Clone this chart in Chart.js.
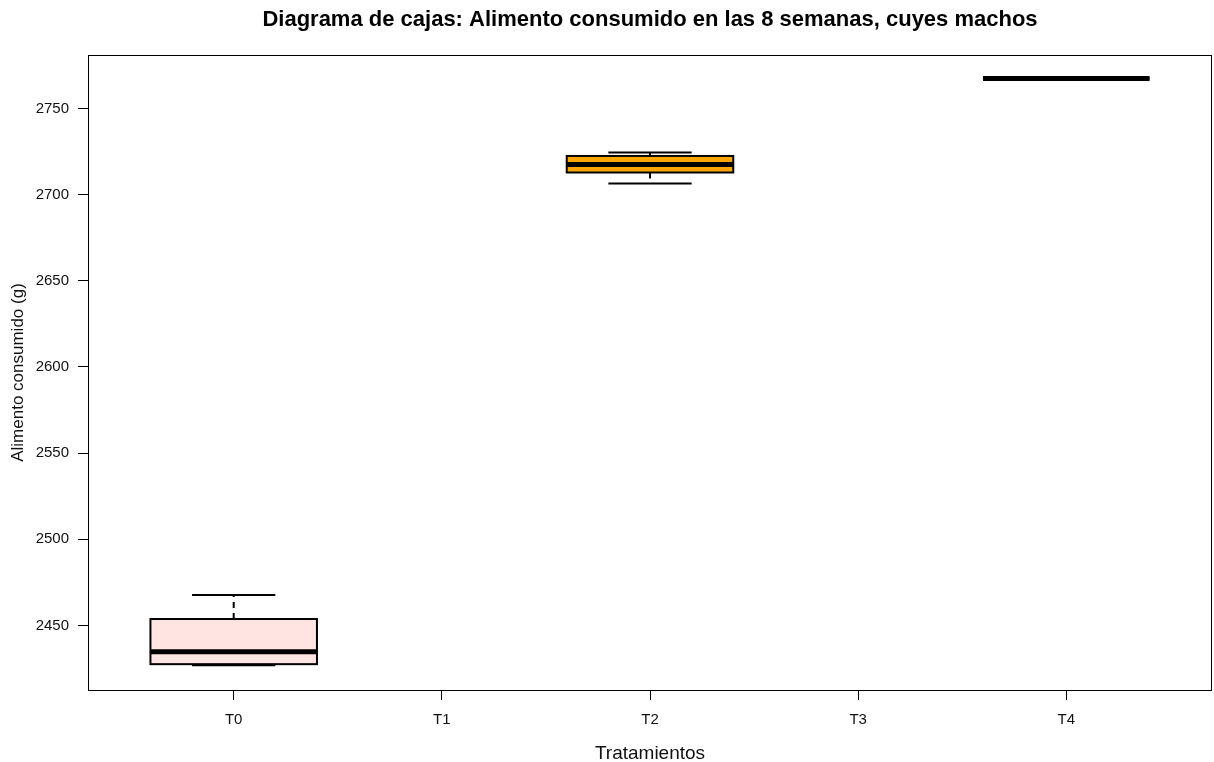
<!DOCTYPE html>
<html>
<head>
<meta charset="utf-8">
<script src="https://cdn.jsdelivr.net/npm/chart.js@4/dist/chart.umd.min.js"></script>
<style>
  body { margin: 0; background: #fff; }
  #wrap { width: 1214px; height: 762px; }
</style>
</head>
<body>
<div id="wrap"><canvas id="boxChart" width="1214" height="762"></canvas></div>
<script>
// Data
const categories = ["T0", "T1", "T2", "T3", "T4"];
const whiskerLow = [2426.8, null, 2706.5, null, 2767.4];
const q1 = [2427.5, null, 2712.9, null, 2767.4];
const medians = [2434.7, null, 2717.5, null, 2767.4];
const q3 = [2453.7, null, 2722.5, null, 2767.4];
const whiskerHigh = [2467.6, null, 2724.5, null, 2767.4];
const yTicks = [2450, 2500, 2550, 2600, 2650, 2700, 2750];

const boxColors = ["#FFE4E1", null, "#FFA500", null, "#000000"];
const FONT = "'Liberation Sans', Arial, sans-serif";
const TITLE = "Diagrama de cajas: Alimento consumido en las 8 semanas, cuyes machos";

Chart.defaults.font.family = FONT;
Chart.defaults.color = "#111";

const boxPlugin = {
  id: "boxes",
  beforeDraw(chart) {
    const ctx = chart.ctx;
    ctx.save();
    ctx.fillStyle = "#fff";
    ctx.fillRect(0, 0, chart.width, chart.height);
    ctx.restore();
  },
  afterDatasetsDraw(chart) {
    const { ctx, chartArea, scales: { x, y } } = chart;
    ctx.save();
    categories.forEach((c, i) => {
      if (medians[i] == null) return;
      const cx = x.getPixelForValue(i + 1);
      const half = x.getPixelForValue(i + 1.4) - cx;
      const yLo = y.getPixelForValue(whiskerLow[i]);
      const yQ1 = y.getPixelForValue(q1[i]);
      const yMed = y.getPixelForValue(medians[i]);
      const yQ3 = y.getPixelForValue(q3[i]);
      const yHi = y.getPixelForValue(whiskerHigh[i]);

      ctx.strokeStyle = "#000";
      ctx.lineWidth = 2;
      // whiskers
      ctx.setLineDash([6, 5]);
      ctx.beginPath();
      ctx.moveTo(cx, yQ3); ctx.lineTo(cx, yHi);
      ctx.moveTo(cx, yQ1); ctx.lineTo(cx, yLo);
      ctx.stroke();
      ctx.setLineDash([]);
      ctx.beginPath();
      ctx.moveTo(cx - half / 2, yHi); ctx.lineTo(cx + half / 2, yHi);
      ctx.moveTo(cx - half / 2, yLo); ctx.lineTo(cx + half / 2, yLo);
      ctx.stroke();
      // box
      ctx.fillStyle = boxColors[i];
      ctx.fillRect(cx - half, yQ3, half * 2, yQ1 - yQ3);
      ctx.strokeRect(cx - half, yQ3, half * 2, yQ1 - yQ3);
      // median
      ctx.lineWidth = 5;
      ctx.beginPath();
      ctx.moveTo(cx - half, yMed); ctx.lineTo(cx + half, yMed);
      ctx.stroke();
    });
    // frame
    ctx.lineWidth = 1;
    ctx.strokeStyle = "#000";
    ctx.strokeRect(chartArea.left + 0.5, chartArea.top + 0.5,
      chartArea.right - chartArea.left - 1, chartArea.bottom - chartArea.top);
    // title centred over the plot region
    ctx.fillStyle = "#000";
    ctx.font = "bold 22px " + FONT;
    ctx.textAlign = "center";
    ctx.textBaseline = "middle";
    ctx.fillText(TITLE, (chartArea.left + chartArea.right) / 2, 20);
    ctx.restore();
  },
};

const ctx = document.getElementById("boxChart").getContext("2d");
new Chart(ctx, {
  type: "scatter",
  data: { datasets: [{ data: [] }] },
  options: {
    responsive: false,
    animation: false,
    layout: { padding: { top: 55, right: 2, left: 0, bottom: 0 } },
    plugins: {
      legend: { display: false },
      tooltip: { enabled: false },
    },
    scales: {
      x: {
        type: "linear",
        min: 0.3,
        max: 5.7,
        afterBuildTicks: (scale) => {
          scale.ticks = categories.map((c, i) => ({ value: i + 1 }));
        },
        afterFit: (scale) => { scale.height = 72; },
        ticks: {
          font: { size: 15 },
          padding: 11,
          maxRotation: 0,
          callback: (v) => categories[v - 1],
        },
        grid: { drawOnChartArea: false, tickLength: 10, color: "#000" },
        border: { display: false },
        title: {
          display: true,
          text: "Tratamientos",
          font: { size: 19 },
          padding: { top: 0, bottom: -3 },
        },
      },
      y: {
        min: 2412.5,
        max: 2781.1,
        afterBuildTicks: (scale) => {
          scale.ticks = yTicks.map((v) => ({ value: v }));
        },
        afterFit: (scale) => { scale.width = 88; },
        ticks: {
          font: { size: 15 },
          padding: 9,
          callback: (v) => String(v),
        },
        grid: { drawOnChartArea: false, tickLength: 10, color: "#000" },
        border: { display: false },
        title: {
          display: true,
          text: "Alimento consumido (g)",
          font: { size: 17 },
          padding: { top: 8, bottom: 0 },
        },
      },
    },
  },
  plugins: [boxPlugin],
});
</script>
</body>
</html>
